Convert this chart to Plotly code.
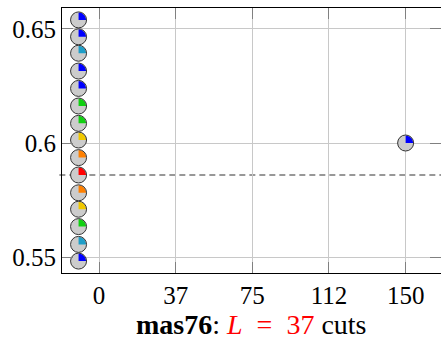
import numpy as np
import plotly.graph_objects as go

# ---- data ----
col_x = [-10] * 15
col_y = [0.5483, 0.5556, 0.5634, 0.5710, 0.5782, 0.5860, 0.5936, 0.6013,
         0.6086, 0.6162, 0.6239, 0.6315, 0.6393, 0.6465, 0.6539]
col_colors = ["#0000ff", "#1e9ec8", "#10d010", "#f0c800", "#ff8000", "#ff0000",
              "#ff8000", "#f0c800", "#10d010", "#10d010", "#0000ff", "#0000ff",
              "#1e9ec8", "#0000ff", "#0000ff"]
pt_x = [150]
pt_y = [0.6]
pt_colors = ["#0000ff"]
ref_y = 0.586
x_tickvals = [0, 37.5, 75, 112.5, 150]
x_ticktext = ["0", "37", "75", "112", "150"]
y_tickvals = [0.55, 0.6, 0.65]
y_ticktext = ["0.55", "0.6", "0.65"]
title_text = ("<b>mas76</b>: <span style='color:red'><i>L</i>&#8194;=&#8194;37</span> cuts")

# ---- layout geometry ----
W, H = 441, 345
ML, MR, MT, MB = 62, 0, 8, 72
x_range = [-18.1, 167.3]
y_range = [0.54308, 0.65911]
plot_w = W - ML - MR
plot_h = H - MT - MB
pxx = plot_w / (x_range[1] - x_range[0])
pxy = plot_h / (y_range[1] - y_range[0])

R_CIRC = 16
R_WEDGE = 7.5

xs = col_x + pt_x
ys = col_y + pt_y
cs = col_colors + pt_colors

fig = go.Figure()
fig.add_trace(go.Scatter(x=xs, y=ys, mode="markers",
                         marker=dict(symbol="circle", size=R_CIRC, color="#cccccc",
                                     line=dict(width=0)),
                         showlegend=False, hoverinfo="skip"))
ang = np.linspace(0, np.pi / 2, 16)
for x, y, c in zip(xs, ys, cs):
    wx = [x] + list(x + R_WEDGE * np.cos(ang) / pxx) + [x]
    wy = [y] + list(y + R_WEDGE * np.sin(ang) / pxy) + [y]
    fig.add_trace(go.Scatter(x=wx, y=wy, mode="lines", fill="toself",
                             fillcolor=c, line=dict(width=0, color=c),
                             showlegend=False, hoverinfo="skip"))
fig.add_trace(go.Scatter(x=xs, y=ys, mode="markers",
                         marker=dict(symbol="circle-open", size=R_CIRC, color="#333333",
                                     line=dict(width=1)),
                         showlegend=False, hoverinfo="skip"))
fig.add_trace(go.Scatter(x=[None], y=[None], xaxis="x2", yaxis="y2", showlegend=False))

fig.add_shape(type="line", xref="paper", yref="y", x0=-0.007, x1=1, y0=ref_y, y1=ref_y,
              line=dict(color="#777777", width=1.5, dash="6px,4px"), layer="below")

fig.add_annotation(text=title_text, xref="paper", yref="paper",
                   x=(251.5 - ML) / plot_w, y=(MT + plot_h - 324) / plot_h,
                   xanchor="center", yanchor="middle", showarrow=False,
                   font=dict(size=28, color="black"))

font_fam = "Liberation Serif"
fig.update_layout(
    width=W, height=H,
    margin=dict(l=ML, r=MR, t=MT, b=MB, pad=0, autoexpand=False),
    paper_bgcolor="white", plot_bgcolor="white",
    font=dict(family=font_fam, size=25, color="black"),
    xaxis=dict(range=x_range, tickvals=x_tickvals, ticktext=x_ticktext,
               showgrid=True, gridcolor="#c8c8c8", gridwidth=1,
               ticks="inside", ticklen=11, tickcolor="#808080", tickwidth=1,
               showline=True, linecolor="black", linewidth=1, mirror=True,
               zeroline=False, tickfont=dict(size=25), automargin=False),
    yaxis=dict(range=y_range, tickvals=y_tickvals, ticktext=y_ticktext,
               showgrid=True, gridcolor="#c8c8c8", gridwidth=1,
               ticks="inside", ticklen=11, tickcolor="#808080", tickwidth=1,
               showline=True, linecolor="black", linewidth=1, mirror=False,
               zeroline=False, tickfont=dict(size=25), automargin=False),
    xaxis2=dict(range=x_range, overlaying="x", side="top", tickvals=x_tickvals,
                showticklabels=False, ticks="inside", ticklen=11, tickcolor="#808080",
                showgrid=False, zeroline=False, showline=False, anchor="y2",
                automargin=False),
    yaxis2=dict(range=y_range, overlaying="y", side="right", tickvals=y_tickvals,
                showticklabels=False, ticks="inside", ticklen=11, tickcolor="#808080",
                showgrid=False, zeroline=False, showline=False, anchor="x2",
                automargin=False),
)
fig.write_html("out.html", config={"displayModeBar": False},
               post_script="document.body.style.margin='0';document.body.style.overflow='hidden';")
